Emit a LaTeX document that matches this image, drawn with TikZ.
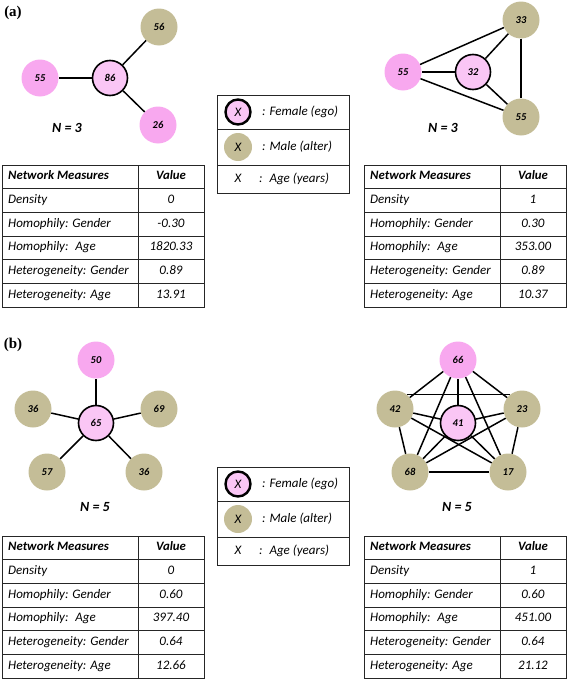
\documentclass[tikz,border=0pt]{standalone}
\usepackage{fontspec}
\setmainfont{Carlito}
\newfontfamily\panelfont{Liberation Serif}
\usetikzlibrary{positioning}
\definecolor{egopink}{HTML}{FAC6F5}
\definecolor{altpink}{HTML}{F8A8EF}
\definecolor{maletan}{HTML}{C4BD97}

\begin{document}
\begin{tikzpicture}[x=1pt, y=-1pt, font=\itshape\fontsize{13}{15}\selectfont,
    ego/.style={circle, draw=black, line width=1.6pt, fill=egopink, minimum size=35pt, inner sep=0pt,
        font=\bfseries\itshape\fontsize{10.5}{12}\selectfont},
    fem/.style={circle, fill=altpink, minimum size=37pt, inner sep=0pt,
        font=\bfseries\itshape\fontsize{10.5}{12}\selectfont},
    male/.style={fem, fill=maletan},
    link/.style={line width=1.5pt},
    tabline/.style={line width=1pt, black!85},
    cell/.style={inner sep=0pt, text height=9pt, text depth=3pt},
    head/.style={cell, font=\bfseries\itshape\fontsize{12.8}{15}\selectfont},
    ntext/.style={font=\bfseries\itshape\fontsize{14}{16}\selectfont},
    panel/.style={font=\panelfont\bfseries\fontsize{15}{17}\selectfont}]

    \useasboundingbox (0,0) rectangle (568,680);

    % --- (a) STERN, N = 3 ---
    \node[panel] (pa) at (13,13) {(a)};
    \node[ego] (a86) at (110,78) {86};
    \node[fem] (a55) at (40,78) {55};
    \node[male] (a56) at (159,27) {56};
    \node[fem] (a26) at (158,125) {26};
    \foreach \n in {a55,a56,a26}
        \draw[link] (a86) -- (\n);
    \node[ntext] (na) at (67,128) {N = 3};

    % --- (a) DREIECK, N = 3 ---
    \node[ego] (b32) at (473,72) {32};
    \node[fem] (b55) at (403,72) {55};
    \node[male] (b33) at (521,20) {33};
    \node[male] (b55m) at (521,117) {55};
    \foreach \s/\t in {b32/b55, b32/b33, b32/b55m, b55/b33, b55/b55m, b33/b55m}
        \draw[link] (\s) -- (\t);
    \node[ntext] (nb) at (443,128) {N = 3};

    % --- (b) STERN, N = 5 ---
    \node[panel] (pb) at (13,345) {(b)};
    \node[ego] (c65) at (96,423) {65};
    \node[fem] (c50) at (96,360) {50};
    \node[male] (c36) at (33,409) {36};
    \node[male] (c69) at (159,409) {69};
    \node[male] (c57) at (47,472) {57};
    \node[male] (c36r) at (144,472) {36};
    \foreach \n in {c50,c36,c69,c57,c36r}
        \draw[link] (c65) -- (\n);
    \node[ntext] (nc) at (95,507) {N = 5};

    % --- (b) VOLLER GRAPH, N = 5 ---
    \node[ego] (d41) at (458,423) {41};
    \node[fem] (d66) at (458,360) {66};
    \node[male] (d42) at (395,409) {42};
    \node[male] (d23) at (522,409) {23};
    \node[male] (d68) at (410,472) {68};
    \node[male] (d17) at (508,472) {17};
    \foreach \n in {d66,d42,d23,d68,d17}
        \draw[link] (d41) -- (\n);
    \foreach \s/\t in {d66/d42, d66/d23, d66/d68, d66/d17, d42/d68, d42/d17, d23/d68, d23/d17, d68/d17}
        \draw[link] (\s) -- (\t);
    \draw[link] (d42.50) -- (d23.130);
    \node[ntext] (nd) at (457,507) {N = 5};

    % --- LEGENDEN ---
    \foreach \k/\dy in {1/0, 2/372} {
        \begin{scope}[shift={(217,95+\dy)}]
            \draw[tabline] (0,0) rectangle (132,98) (0,34) -- (132,34) (0,70) -- (132,70);
            \node[ego, minimum size=25pt, line width=2.4pt, font=\itshape\fontsize{13}{15}\selectfont] (le\k) at (21,17) {X};
            \node[male, minimum size=28pt, font=\itshape\fontsize{13}{15}\selectfont] (lm\k) at (21,52) {X};
            \node[cell] (lx\k) at (21,84) {X};
            \node[cell, anchor=west] (lf\k) at (45,17) {: Female (ego)};
            \node[cell, anchor=west] (lg\k) at (45,52) {: Male (alter)};
            \node[cell, anchor=west] (ly\k) at (42,84) {:~ Age (years)};
        \end{scope}
    }

    % --- TABELLEN (a) ---
    \begin{scope}[shift={(2,165)}]
        \draw[tabline] (0,0) rectangle (202,142) (136,0) -- (136,142);
        \foreach \i in {1,...,5}
            \draw[tabline] (0,23.7*\i) -- (202,23.7*\i);
        \node[head, anchor=west] (ta0) at (6,11.85) {Network Measures};
        \node[head] (tav0) at (169,11.85) {Value};
        \foreach \lab/\val [count=\i] in {Density/0, Homophily: Gender/-0.30, Homophily:~ Age/1820.33,
                Heterogeneity: Gender/0.89, Heterogeneity: Age/13.91} {
            \node[cell, anchor=west] (ta\i) at (6,23.7*\i+11.85) {\lab};
            \node[cell] (tav\i) at (169,23.7*\i+11.85) {\val};
        }
    \end{scope}

    \begin{scope}[shift={(364,165)}]
        \draw[tabline] (0,0) rectangle (202,142) (136,0) -- (136,142);
        \foreach \i in {1,...,5}
            \draw[tabline] (0,23.7*\i) -- (202,23.7*\i);
        \node[head, anchor=west] (tb0) at (6,11.85) {Network Measures};
        \node[head] (tbv0) at (169,11.85) {Value};
        \foreach \lab/\val [count=\i] in {Density/1, Homophily: Gender/0.30, Homophily:~ Age/353.00,
                Heterogeneity: Gender/0.89, Heterogeneity: Age/10.37} {
            \node[cell, anchor=west] (tb\i) at (6,23.7*\i+11.85) {\lab};
            \node[cell] (tbv\i) at (169,23.7*\i+11.85) {\val};
        }
    \end{scope}

    % --- TABELLEN (b) ---
    \begin{scope}[shift={(2,536)}]
        \draw[tabline] (0,0) rectangle (202,142) (136,0) -- (136,142);
        \foreach \i in {1,...,5}
            \draw[tabline] (0,23.7*\i) -- (202,23.7*\i);
        \node[head, anchor=west] (tc0) at (6,11.85) {Network Measures};
        \node[head] (tcv0) at (169,11.85) {Value};
        \foreach \lab/\val [count=\i] in {Density/0, Homophily: Gender/0.60, Homophily:~ Age/397.40,
                Heterogeneity: Gender/0.64, Heterogeneity: Age/12.66} {
            \node[cell, anchor=west] (tc\i) at (6,23.7*\i+11.85) {\lab};
            \node[cell] (tcv\i) at (169,23.7*\i+11.85) {\val};
        }
    \end{scope}

    \begin{scope}[shift={(364,536)}]
        \draw[tabline] (0,0) rectangle (202,142) (136,0) -- (136,142);
        \foreach \i in {1,...,5}
            \draw[tabline] (0,23.7*\i) -- (202,23.7*\i);
        \node[head, anchor=west] (td0) at (6,11.85) {Network Measures};
        \node[head] (tdv0) at (169,11.85) {Value};
        \foreach \lab/\val [count=\i] in {Density/1, Homophily: Gender/0.60, Homophily:~ Age/451.00,
                Heterogeneity: Gender/0.64, Heterogeneity: Age/21.12} {
            \node[cell, anchor=west] (td\i) at (6,23.7*\i+11.85) {\lab};
            \node[cell] (tdv\i) at (169,23.7*\i+11.85) {\val};
        }
    \end{scope}

\end{tikzpicture}
\end{document}
